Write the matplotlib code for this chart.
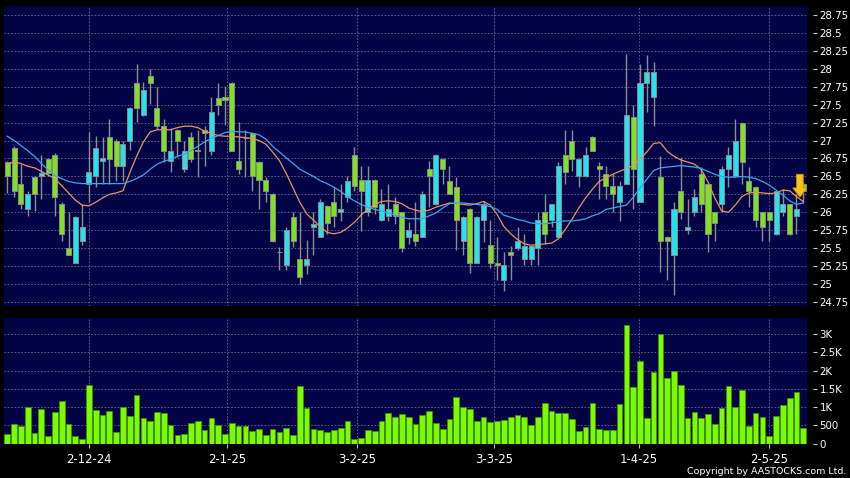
import numpy as np
import matplotlib.pyplot as plt
from matplotlib.patches import FancyArrow

# daily OHLC (118 sessions, mid-Nov 2024 to mid-May 2025)
opens = [26.70, 26.90, 26.40, 26.05, 26.49, 26.50, 26.74, 26.80, 26.11, 25.50,
         25.30, 25.60, 26.40, 26.50, 26.71, 27.05, 27.00, 26.65, 27.00, 27.80,
         27.35, 27.90, 27.46, 27.20, 26.71, 27.15, 26.60, 27.05, 26.86, 27.14,
         26.86, 27.59, 27.60, 27.80, 26.71, 27.03, 27.10, 26.70, 26.45, 26.26,
         25.44, 25.26, 25.94, 25.35, 25.26, 25.80, 25.66, 26.09, 26.14, 26.00,
         26.21, 26.80, 26.45, 26.00, 26.45, 25.89, 25.95, 26.11, 26.00, 25.66,
         25.70, 25.66, 26.60, 26.11, 26.74, 26.44, 26.35, 25.60, 26.05, 25.30,
         25.89, 25.55, 25.30, 25.05, 25.44, 25.50, 25.35, 25.35, 25.50, 26.00,
         25.89, 25.66, 26.80, 26.99, 26.50, 26.50, 27.05, 26.65, 26.54, 26.36,
         26.14, 26.40, 27.33, 26.15, 27.80, 27.60, 26.49, 25.65, 25.41, 26.30,
         25.75, 26.00, 26.54, 26.40, 26.00, 26.11, 26.60, 26.50, 27.25, 26.44,
         26.35, 26.00, 26.00, 25.70, 26.00, 26.11, 25.95, 26.40]
highs = [26.72, 26.92, 26.67, 26.30, 26.50, 26.80, 26.76, 26.82, 26.14, 26.00,
         25.95, 26.11, 27.12, 27.06, 27.05, 27.30, 27.02, 27.00, 27.47, 28.06,
         27.81, 28.00, 27.74, 27.30, 27.17, 27.16, 27.00, 27.12, 27.14, 27.20,
         27.60, 27.80, 27.76, 27.82, 27.26, 27.15, 27.12, 26.72, 26.49, 26.27,
         25.51, 25.79, 26.00, 26.00, 25.61, 26.00, 26.19, 26.10, 26.35, 26.40,
         26.50, 26.91, 26.65, 26.65, 26.46, 26.33, 26.40, 26.21, 26.01, 25.86,
         26.14, 26.30, 26.72, 26.81, 26.75, 26.65, 26.49, 25.95, 26.06, 25.95,
         26.16, 25.89, 25.65, 25.44, 25.53, 25.79, 25.70, 25.55, 26.00, 26.26,
         26.12, 26.70, 27.14, 27.14, 26.75, 26.91, 27.06, 26.70, 26.65, 26.53,
         26.44, 28.20, 27.50, 28.06, 28.19, 28.10, 26.78, 25.67, 26.15, 26.77,
         26.19, 26.33, 26.63, 26.41, 26.01, 26.65, 26.91, 27.30, 27.26, 26.63,
         26.36, 26.01, 26.01, 26.30, 26.33, 26.12, 26.26, 26.42]
lows = [26.27, 26.21, 26.05, 25.95, 26.02, 26.19, 26.51, 25.95, 25.60, 25.41,
        25.30, 25.55, 26.14, 26.35, 26.40, 26.40, 26.44, 26.44, 26.87, 27.26,
        27.34, 27.51, 27.16, 26.70, 26.56, 26.77, 26.56, 26.70, 26.49, 26.65,
        26.80, 27.35, 27.22, 26.85, 26.54, 26.49, 26.30, 26.05, 26.14, 25.59,
        25.19, 25.19, 25.51, 25.00, 25.14, 25.41, 25.65, 25.70, 25.80, 25.88,
        26.15, 26.30, 25.74, 25.95, 25.98, 25.88, 25.88, 25.83, 25.44, 25.56,
        25.53, 25.65, 26.07, 26.10, 26.40, 26.25, 25.47, 25.40, 25.15, 25.29,
        25.58, 25.23, 25.05, 24.91, 25.05, 25.47, 25.26, 25.26, 25.26, 25.56,
        25.80, 25.65, 26.40, 26.58, 26.35, 26.49, 26.85, 26.19, 26.19, 26.00,
        25.88, 26.39, 26.05, 26.14, 27.40, 27.20, 25.17, 25.05, 24.85, 25.90,
        25.70, 25.95, 26.00, 25.44, 25.60, 26.00, 26.35, 26.49, 26.40, 26.07,
        25.79, 25.60, 25.60, 25.69, 25.95, 25.68, 25.70, 26.13]
closes = [26.50, 26.30, 26.11, 26.26, 26.26, 26.55, 26.55, 26.21, 25.70, 25.41,
          25.94, 25.79, 26.56, 26.90, 26.75, 26.74, 26.65, 26.95, 27.46, 27.46,
          27.71, 27.80, 27.20, 26.86, 26.86, 27.00, 26.85, 26.74, 26.86, 27.10,
          27.40, 27.50, 27.57, 26.86, 26.60, 27.03, 26.50, 26.45, 26.30, 25.60,
          25.44, 25.75, 25.60, 25.10, 25.35, 25.83, 26.14, 25.85, 25.95, 26.05,
          26.44, 26.36, 26.30, 26.45, 26.07, 26.11, 26.05, 25.95, 25.50, 25.75,
          25.60, 26.26, 26.50, 26.80, 26.60, 26.26, 25.89, 25.94, 25.30, 25.94,
          26.11, 25.30, 25.26, 25.26, 25.41, 25.60, 25.53, 25.53, 25.89, 25.70,
          26.11, 26.65, 26.56, 26.74, 26.74, 26.80, 26.86, 26.60, 26.36, 26.26,
          26.36, 27.35, 26.60, 27.80, 27.95, 27.95, 25.60, 25.60, 26.05, 26.00,
          25.80, 26.21, 26.11, 25.70, 25.85, 26.60, 26.80, 27.00, 26.70, 26.30,
          25.89, 25.80, 25.89, 26.29, 26.11, 25.70, 26.05, 26.30]

# moving averages as drawn (orange = short, blue = long)
ma_short = [26.67, 26.70, 26.68, 26.64, 26.62, 26.57, 26.52, 26.47, 26.37, 26.27,
            26.17, 26.10, 26.09, 26.14, 26.20, 26.25, 26.27, 26.30, 26.55, 26.78,
            26.98, 27.12, 27.15, 27.15, 27.15, 27.18, 27.20, 27.20, 27.18, 27.13,
            27.10, 27.07, 27.06, 27.06, 27.05, 27.04, 27.03, 27.00, 26.95, 26.84,
            26.72, 26.54, 26.34, 26.14, 25.98, 25.89, 25.80, 25.72, 25.70, 25.72,
            25.78, 25.86, 25.96, 26.04, 26.11, 26.15, 26.16, 26.15, 26.12, 26.06,
            26.03, 26.01, 26.03, 26.07, 26.10, 26.13, 26.12, 26.11, 26.10, 26.12,
            26.15, 26.10, 25.97, 25.80, 25.70, 25.62, 25.56, 25.54, 25.55, 25.56,
            25.57, 25.63, 25.76, 25.90, 26.06, 26.20, 26.32, 26.43, 26.48, 26.53,
            26.57, 26.61, 26.65, 26.74, 26.84, 26.96, 26.97, 26.85, 26.78, 26.73,
            26.70, 26.67, 26.60, 26.42, 26.20, 26.02, 26.00, 26.10, 26.22, 26.27,
            26.28, 26.27, 26.26, 26.27, 26.31, 26.30, 26.22, 26.15]
ma_long = [27.06, 27.00, 26.93, 26.86, 26.78, 26.68, 26.59, 26.51, 26.47, 26.43,
           26.41, 26.40, 26.40, 26.40, 26.40, 26.40, 26.40, 26.40, 26.43, 26.47,
           26.52, 26.60, 26.67, 26.71, 26.74, 26.78, 26.81, 26.86, 26.92, 26.98,
           27.03, 27.07, 27.11, 27.13, 27.12, 27.12, 27.10, 27.08, 27.02, 26.92,
           26.84, 26.76, 26.68, 26.60, 26.55, 26.50, 26.44, 26.40, 26.35, 26.29,
           26.22, 26.16, 26.11, 26.07, 26.04, 26.02, 25.99, 25.96, 25.93, 25.91,
           25.91, 25.91, 25.95, 25.99, 26.06, 26.12, 26.13, 26.13, 26.12, 26.11,
           26.10, 26.08, 26.04, 25.96, 25.93, 25.90, 25.88, 25.85, 25.84, 25.84,
           25.85, 25.87, 25.88, 25.88, 25.89, 25.91, 25.95, 25.98, 26.04, 26.06,
           26.08, 26.10, 26.21, 26.34, 26.46, 26.58, 26.62, 26.63, 26.64, 26.65,
           26.64, 26.63, 26.61, 26.57, 26.53, 26.50, 26.49, 26.49, 26.50, 26.49,
           26.47, 26.43, 26.38, 26.31, 26.24, 26.16, 26.11, 26.13]

volumes = [257, 523, 477, 991, 294, 936, 211, 862, 1165, 523,
           202, 119, 1615, 908, 771, 881, 321, 991, 743, 1330,
           688, 624, 862, 835, 505, 220, 257, 550, 605, 376,
           697, 495, 248, 569, 468, 477, 339, 385, 220, 385,
           312, 413, 220, 1578, 963, 394, 367, 321, 367, 413,
           624, 119, 147, 367, 330, 605, 835, 734, 798, 716,
           532, 789, 881, 550, 404, 679, 1284, 1000, 954, 605,
           716, 587, 624, 633, 725, 771, 734, 495, 734, 1119,
           890, 844, 844, 661, 339, 450, 1101, 394, 358, 358,
           1083, 3257, 1550, 2275, 706, 1972, 3009, 1789, 2000, 1615,
           706, 862, 688, 807, 532, 972, 1578, 991, 1468, 468,
           835, 716, 211, 752, 1046, 1257, 1404, 413]

date_labels = ["2-12-24", "2-1-25", "3-2-25", "3-3-25", "1-4-25", "2-5-25"]
date_pos = [12.05, 32.25, 51.45, 71.5, 92.8, 112.0]

price_ticks = np.arange(24.75, 28.76, 0.25)
vol_ticks = [0, 500, 1000, 1500, 2000, 2500, 3000]
vol_labels = ["0", "500", "1K", "1.5K", "2K", "2.5K", "3K"]

BG = '#020246'
GRID = '#6a6a90'
UP = '#22e4ee'
DOWN = '#7ee21e'
WICK = '#8e8e8e'

o = np.array(opens); c = np.array(closes)
h = np.array(highs); l = np.array(lows)
x = np.arange(len(c))

fig = plt.figure(figsize=(8.5, 4.78), dpi=100, facecolor='black')
ax = fig.add_axes([4/850, 1 - 306/478, 803/850, 300/478])
axv = fig.add_axes([4/850, 1 - 443.5/478, 803/850, 125.5/478], sharex=ax)

for a in (ax, axv):
    a.set_facecolor(BG)
    for s in a.spines.values():
        s.set_visible(False)
    a.grid(True, color=GRID, linestyle=(0, (2, 2)), linewidth=0.6)
    a.set_axisbelow(True)
    a.yaxis.tick_right()
    a.spines['right'].set_position(('outward', 4))
    a.tick_params(axis='y', colors='#d0d0d0', length=3, width=0.8, pad=2,
                  labelcolor='white', labelsize=7.4)

# candlesticks
ax.vlines(x, l, h, color=WICK, linewidth=1, zorder=2)
body_lo = np.minimum(o, c)
body_h = np.maximum(np.abs(c - o), 0.012)
cols = [UP if cc > oo else (DOWN if cc < oo else WICK) for oo, cc in zip(o, c)]
ax.bar(x, body_h, bottom=body_lo, width=0.74, color=cols,
       edgecolor='#8a8a8a', linewidth=0.7, zorder=3)

ax.plot(x, ma_short, color='#e8935c', linewidth=0.9, zorder=4)
ax.plot(x, ma_long, color='#3aa6ea', linewidth=0.9, zorder=4)

# last-price marker
ax.add_patch(FancyArrow(x[-1] - 0.5, c[-1] + 0.23, 0, -0.32, width=1.0,
                        head_width=2.1, head_length=0.13,
                        length_includes_head=True, facecolor='#f7c21a',
                        edgecolor='#c88a00', linewidth=0.6, zorder=6))

ax.set_xlim(-0.485, 117.55)
ax.set_ylim(24.694, 28.875)
ax.set_yticks(price_ticks)
ax.set_yticklabels(['{:g}'.format(v) for v in price_ticks])
ax.set_xticks(date_pos)
ax.tick_params(axis='x', length=0, labelbottom=False)

# volume
axv.bar(x, volumes, width=0.84, color='#7cfc00', edgecolor='#3f8f00',
        linewidth=0.6, zorder=3)
axv.set_ylim(0, 3440)
axv.set_yticks(vol_ticks)
axv.set_yticklabels(vol_labels)
axv.set_xticks(date_pos)
axv.set_xticklabels(date_labels)
axv.tick_params(axis='x', colors='#c0c0c0', length=3, width=0.8, pad=4,
                labelcolor='white', labelsize=8.4)

fig.text(846/850, 1 - 472/478, "Copyright by AASTOCKS.com Ltd.", color='white',
         fontsize=6.8, ha='right', va='center')

fig.savefig('out.png', dpi=100, facecolor='black')
